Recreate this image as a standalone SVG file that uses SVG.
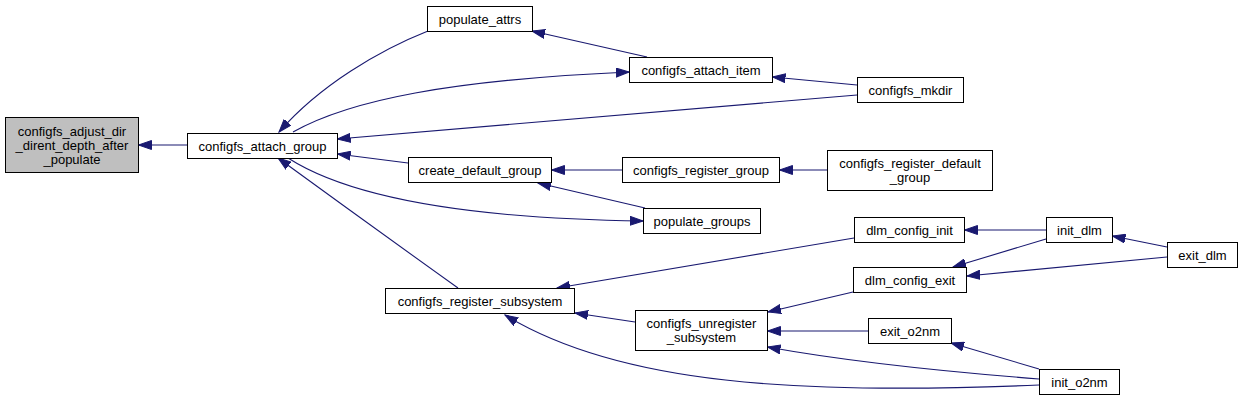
<svg xmlns="http://www.w3.org/2000/svg" width="1243" height="400" viewBox="0 0 1243 400">
<style>
.n rect{fill:#ffffff;stroke:#000000;stroke-width:1}
.n.root rect{fill:#bfbfbf}
.n text{font-family:"Liberation Sans",Arial,Helvetica,sans-serif;font-size:13px;fill:#000000;text-anchor:middle}
#edges path{fill:none;stroke:#191970;stroke-width:1.1;marker-end:url(#ah)}
</style>
<defs>
<marker id="ah" markerWidth="14" markerHeight="10" refX="13" refY="5" orient="auto" markerUnits="userSpaceOnUse">
<path d="M0,0.5 L13,5 L0,9.5 z" fill="#191970" stroke="#191970" stroke-width="1"/>
</marker>
</defs>
<rect width="1243" height="400" fill="#ffffff"/>
<g id="edges">
<path d="M187,145 L138.5,145"/>
<path d="M428,31 C380,50 320,85 279,132"/>
<path d="M293,132 C350,100 450,80 629,72"/>
<path d="M647,57 L532,31"/>
<path d="M857,85 L772.5,77"/>
<path d="M857,95 L337.5,139"/>
<path d="M408,163 L337.5,154"/>
<path d="M288,158 C330,185 420,218 643,221"/>
<path d="M645,208 L538,183"/>
<path d="M622,170 L551.5,170"/>
<path d="M827,170 L779.5,170"/>
<path d="M458,288 Q370,225 278,158"/>
<path d="M854,238 L557,288"/>
<path d="M635,322 L575,313"/>
<path d="M1039,385 C800,395 620,385 505,315"/>
<path d="M853,292 L768,312"/>
<path d="M868,331 L767.5,331"/>
<path d="M1039,379 C950,372 850,362 767.5,347"/>
<path d="M1039,369 L951,343"/>
<path d="M1046,230 L964.5,230"/>
<path d="M1046,239 L953,267"/>
<path d="M1167,247 L1112.5,236"/>
<path d="M1167,257 L967,276"/>
</g>
<g id="configfs_adjust_dir_dirent_depth_after_populate" class="n root">
<rect x="5.5" y="117.5" width="133" height="55"/>
<text x="72" y="135.5">configfs_adjust_dir</text>
<text x="72" y="149.5">_dirent_depth_after</text>
<text x="72" y="163.5">_populate</text>
</g>
<g id="configfs_attach_group" class="n">
<rect x="187.5" y="133.5" width="150" height="25"/>
<text x="262.5" y="150.5">configfs_attach_group</text>
</g>
<g id="populate_attrs" class="n">
<rect x="427.5" y="6.5" width="105" height="25"/>
<text x="480" y="23.5">populate_attrs</text>
</g>
<g id="configfs_attach_item" class="n">
<rect x="629.5" y="57.5" width="143" height="25"/>
<text x="701" y="74.5">configfs_attach_item</text>
</g>
<g id="configfs_mkdir" class="n">
<rect x="857.5" y="77.5" width="106" height="25"/>
<text x="910.5" y="94.5">configfs_mkdir</text>
</g>
<g id="create_default_group" class="n">
<rect x="408.5" y="157.5" width="143" height="25"/>
<text x="480" y="174.5">create_default_group</text>
</g>
<g id="configfs_register_group" class="n">
<rect x="622.5" y="157.5" width="157" height="25"/>
<text x="701" y="174.5">configfs_register_group</text>
</g>
<g id="configfs_register_default_group" class="n">
<rect x="827.5" y="150.5" width="165" height="40"/>
<text x="910" y="168">configfs_register_default</text>
<text x="910" y="182">_group</text>
</g>
<g id="populate_groups" class="n">
<rect x="643.5" y="208.5" width="117" height="25"/>
<text x="702" y="225.5">populate_groups</text>
</g>
<g id="dlm_config_init" class="n">
<rect x="854.5" y="217.5" width="110" height="25"/>
<text x="909.5" y="234.5">dlm_config_init</text>
</g>
<g id="init_dlm" class="n">
<rect x="1046.5" y="217.5" width="66" height="25"/>
<text x="1079.5" y="234.5">init_dlm</text>
</g>
<g id="exit_dlm" class="n">
<rect x="1167.5" y="242.5" width="70" height="25"/>
<text x="1202.5" y="259.5">exit_dlm</text>
</g>
<g id="dlm_config_exit" class="n">
<rect x="853.5" y="267.5" width="113" height="25"/>
<text x="910" y="284.5">dlm_config_exit</text>
</g>
<g id="configfs_register_subsystem" class="n">
<rect x="385.5" y="288.5" width="189" height="25"/>
<text x="480" y="305.5">configfs_register_subsystem</text>
</g>
<g id="configfs_unregister_subsystem" class="n">
<rect x="635.5" y="310.5" width="132" height="40"/>
<text x="701.5" y="328">configfs_unregister</text>
<text x="701.5" y="342">_subsystem</text>
</g>
<g id="exit_o2nm" class="n">
<rect x="868.5" y="318.5" width="83" height="25"/>
<text x="910" y="335.5">exit_o2nm</text>
</g>
<g id="init_o2nm" class="n">
<rect x="1039.5" y="369.5" width="80" height="25"/>
<text x="1079.5" y="386.5">init_o2nm</text>
</g>
</svg>
